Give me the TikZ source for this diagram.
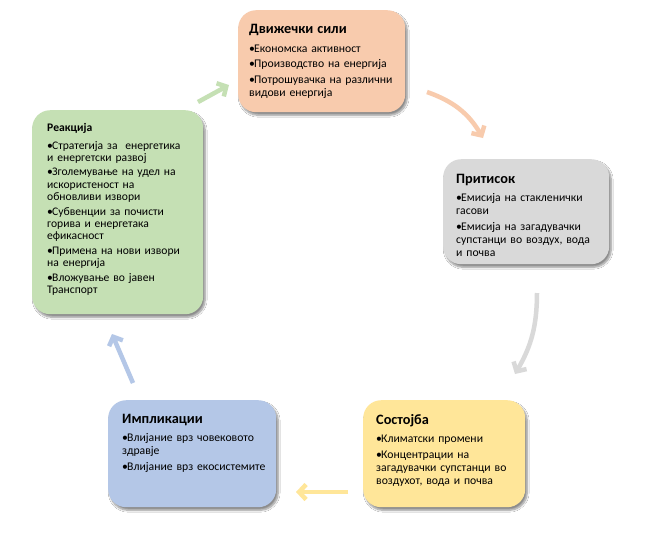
\documentclass[tikz,border=0pt]{standalone}
\usepackage{fontspec}
\setmainfont{Carlito}
\usetikzlibrary{arrows.meta,shadows.blur}
\definecolor{peach}{HTML}{F8CBAD}
\definecolor{greyc}{HTML}{D9D9D9}
\definecolor{yell}{HTML}{FFE699}
\definecolor{bluec}{HTML}{B4C7E7}
\definecolor{greenc}{HTML}{C5E0B4}
\newcommand{\bitem}[1]{\par\vspace{2.5pt}\hangindent=5pt\hangafter=1\noindent\makebox[5pt][l]{•}#1}
\newcommand{\btitle}[1]{{\fontsize{14.3}{16}\selectfont\bfseries #1}\par\vspace{3pt}}
\tikzset{
  box/.style={rectangle, rounded corners=18pt, draw=none, anchor=north west, inner sep=0pt,
    blur shadow={shadow xshift=2pt, shadow yshift=-3pt, shadow blur steps=8, shadow opacity=45}},
  txt/.style={anchor=north west, inner sep=0pt, text width=165pt, align=left,
    font=\fontsize{11.7}{13}\selectfont},
  txtb/.style={txt, font=\fontsize{11.6}{12.2}\selectfont},
  arr/.style={line width=4.5pt, -{Straight Barb[length=7pt,width=15pt]}}
}
\begin{document}
\begin{tikzpicture}[x=1pt,y=-1pt]
\fill[white] (0,0) rectangle (648,539);
\useasboundingbox (0,0) rectangle (648,539);
% boxes
\node[box, fill=peach, minimum width=167pt, minimum height=102pt] (b1) at (238,10) {};
\node[box, fill=greyc, minimum width=166pt, minimum height=105pt] (b2) at (443,159) {};
\node[box, fill=yell, minimum width=162pt, minimum height=107pt] (b3) at (363,400) {};
\node[box, fill=bluec, minimum width=168pt, minimum height=107pt] (b4) at (108,400) {};
\node[box, fill=greenc, minimum width=171pt, minimum height=204pt] (b5) at (32,110) {};
% texts
\node[txt] (t1) at (249,24.5) {\btitle{Движечки сили}
\bitem{Економска активност}
\bitem{Производство на енергија}
\bitem{Потрошувачка на различни\\видови енергија}};
\node[txt] (t2) at (456,174) {\btitle{Притисок}
\bitem{Емисија на стакленички\\гасови}
\bitem{Емисија на загадувачки\\супстанци во воздух, вода\\и почва}};
\node[txt] (t3) at (376,414) {\btitle{Состојба}
\bitem{Климатски промени}
\bitem{Концентрации на\\загадувачки супстанци во\\воздухот, вода и почва}};
\node[txt] (t4) at (122,414) {\btitle{Импликации}
\bitem{Влијание врз човековото\\здравје}
\bitem{Влијание врз екосистемите}};
\node[txtb] (t5) at (47,123) {{\bfseries Реакција}\par\vspace{3pt}
\bitem{Стратегија за~ енергетика\\и енергетски развој}
\bitem{Зголемување на удел на\\искористеност на\\обновливи извори}
\bitem{Субвенции за почисти\\горива и енергетака\\ефикасност}
\bitem{Примена на нови извори\\на енергија}
\bitem{Вложување во јавен\\Транспорт}};
% connectors
\coordinate (g1) at (198,102); \coordinate (g2) at (229,85);
\coordinate (p1) at (427,92);  \coordinate (p2) at (483,138);
\coordinate (q1) at (537,293); \coordinate (q2) at (515,374);
\coordinate (y1) at (348,492); \coordinate (y2) at (296,492);
\coordinate (u1) at (133,383); \coordinate (u2) at (112,334);
\draw[arr, greenc] (g1) -- (g2);
\draw[arr, peach] (p1) to[bend left=20] (p2);
\draw[arr, greyc] (q1) to[bend left=15] (q2);
\draw[arr, yell] (y1) -- (y2);
\draw[arr, bluec] (u1) -- (u2);
\end{tikzpicture}
\end{document}
